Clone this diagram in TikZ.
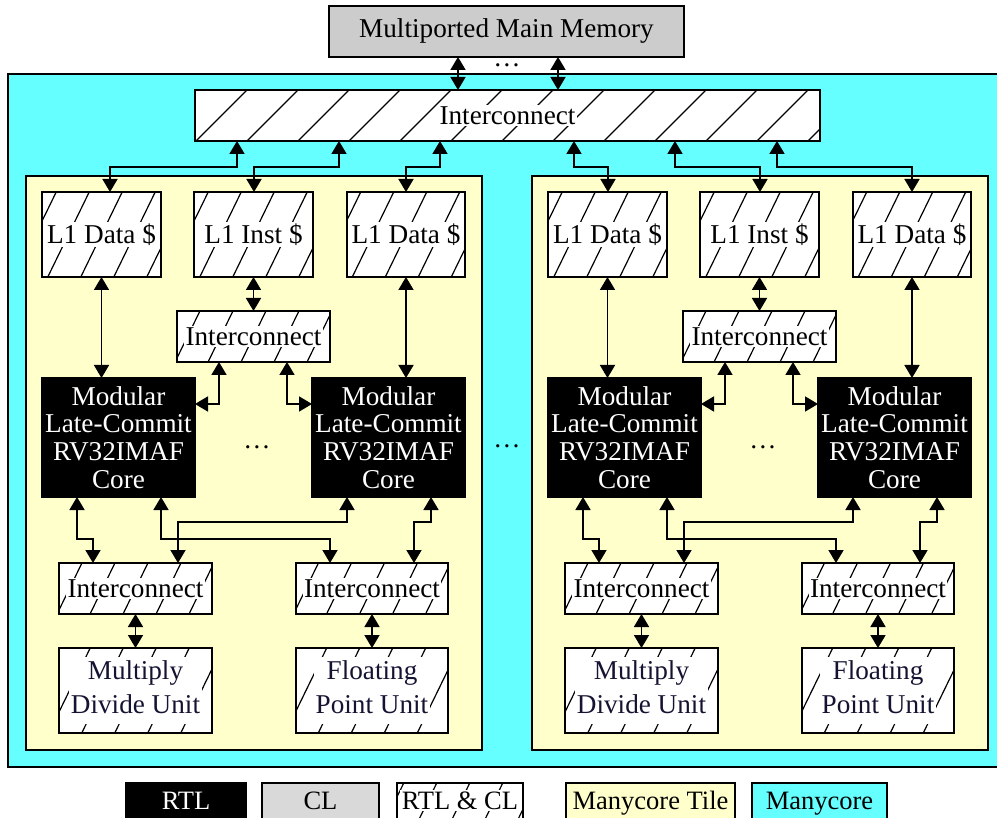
\documentclass[tikz,border=0pt]{standalone}
\usepackage{fontspec}
\setmainfont{Liberation Serif}
\usetikzlibrary{arrows.meta}
\definecolor{mcyan}{HTML}{66FFFF}
\definecolor{mtile}{HTML}{FFFFCC}
\definecolor{mgray}{HTML}{CCCCCC}
\definecolor{lgray}{HTML}{D9D9D9}
\definecolor{navy}{HTML}{141432}
\newcommand\wb[1]{{\setlength{\fboxsep}{1.5pt}\colorbox{white}{#1}}}
\newcommand\wbb[2]{{\setlength{\fboxsep}{1.5pt}\colorbox{white}{\begin{tabular}{@{}c@{}}#1\\[4pt]#2\end{tabular}}}}
\newcommand\mytile[2]{%
\begin{scope}[xshift=#2pt]
\node[box, fill=mtile, minimum width=456pt, minimum height=574pt] (#1tile) at (254,463) {};
\node[hatchS, minimum width=119pt, minimum height=85pt] (#1L1a) at (101.5,234.5) {\wb{L1 Data \$}};
\node[hatchS, minimum width=119pt, minimum height=85pt] (#1L1i) at (253.5,234.5) {\wb{L1 Inst \$}};
\node[hatchS, minimum width=118pt, minimum height=85pt] (#1L1b) at (406,234.5) {\wb{L1 Data \$}};
\node[hatchS, minimum width=153pt, minimum height=51pt] (#1SIC) at (253.5,336.5) {\wb{Interconnect}};
\node[corebox, minimum width=153pt, minimum height=119pt] (#1CoreA) at (118.5,437.5) {Modular\\Late-Commit\\RV32IMAF\\Core};
\node[corebox, minimum width=153pt, minimum height=119pt] (#1CoreB) at (388.5,437.5) {Modular\\Late-Commit\\RV32IMAF\\Core};
\node (#1dots) at (257,447) {…};
\node[hatchS, minimum width=153pt, minimum height=51pt] (#1LIC1) at (135.5,588.5) {\wb{Interconnect}};
\node[hatchS, minimum width=152pt, minimum height=51pt] (#1LIC2) at (372,588.5) {\wb{Interconnect}};
\node[hatchS, minimum width=153pt, minimum height=85pt, text=navy] (#1MDU) at (135.5,690.5) {\wbb{Multiply}{Divide Unit}};
\node[hatchS, minimum width=152pt, minimum height=85pt, text=navy] (#1FPU) at (372,690.5) {\wbb{Floating}{Point Unit}};
\draw[dbl] (#1L1a.south) -- (#1L1a.south |- #1CoreA.north);
\draw[dbl] (#1L1b.south) -- (#1L1b.south |- #1CoreB.north);
\draw[dbl] (#1L1i.south) -- (#1SIC.north);
\draw[dbl] ([xshift=-34.5pt]#1SIC.south) |- ([yshift=33.5pt]#1CoreA.east);
\draw[dbl] ([xshift=33.5pt]#1SIC.south) |- ([yshift=33.5pt]#1CoreB.west);
\draw[dbl] ([xshift=-41.5pt]#1CoreA.south) -- ++(0,42) -| ([xshift=-42.5pt]#1LIC1.north);
\draw[dbl] ([xshift=42.5pt]#1CoreA.south) -- ++(0,42) -| ([xshift=-42pt]#1LIC2.north);
\draw[dbl] ([xshift=-41.5pt]#1CoreB.south) -- ++(0,25) -| ([xshift=42.5pt]#1LIC1.north);
\draw[dbl] ([xshift=42.5pt]#1CoreB.south) -- ++(0,25) -| ([xshift=42pt]#1LIC2.north);
\draw[dbl] (#1LIC1.south) -- (#1MDU.north);
\draw[dbl] (#1LIC2.south) -- (#1FPU.north);
\end{scope}}
\begin{document}
\begin{tikzpicture}[x=1pt,y=-1pt,
  every node/.style={font=\fontsize{27.2}{30}\selectfont, inner sep=0pt, outer sep=0pt},
  box/.style={draw, line width=1.7pt, rectangle},
  hatchS/.style={box, fill=white, path picture={\foreach \k in {-10,...,10}{\draw[line width=1.2pt] ([xshift={\k*33pt}]path picture bounding box.center) ++(64:-120pt) -- ++(64:240pt);}}},
  hatchL/.style={box, fill=white, path picture={\foreach \k in {-14,...,14}{\draw[line width=1.2pt] ([xshift={\k*51pt+20pt}]path picture bounding box.center) ++(45:-100pt) -- ++(45:200pt);}}},
  corebox/.style={box, fill=black, text=white, align=center, font=\fontsize{27.2}{27.7}\selectfont},
  legend/.style={box, minimum height=40pt, text height=18pt, text depth=6pt, font=\fontsize{26.5}{30}\selectfont},
  tip/.tip={Triangle[width=15pt,length=13pt]},
  dbl/.style={line width=1.8pt, tip-tip}
]
\useasboundingbox (0,0) rectangle (997,818);
\fill[white] (0,0) rectangle (997,818);
% manycore
\node[box, fill=mcyan, minimum width=992pt, minimum height=693pt] (manycore) at (504,420.5) {};
% memory
\node[box, fill=mgray, minimum width=355pt, minimum height=51pt] (mem) at (506.5,31.5) {Multiported Main Memory};
% big interconnect
\node[hatchL, minimum width=625pt, minimum height=51pt] (bigic) at (507.5,115.5) {\wb{Interconnect}};
\draw[dbl] ([xshift=-48.5pt]mem.south) -- ([xshift=-48.5pt]mem.south |- bigic.north);
\draw[dbl] ([xshift=51.5pt]mem.south) -- ([xshift=51.5pt]mem.south |- bigic.north);
\node (memdots) at (507,65) {…};
% tiles
\mytile{a}{0}
\mytile{b}{506}
\node (tiledots) at (507,446) {…};
% tile to big interconnect
\draw[dbl] ([xshift=8.5pt]aL1a.north) -- ++(0,-25) -| ([xshift=-270.5pt]bigic.south);
\draw[dbl] ([xshift=0.5pt]aL1i.north) -- ++(0,-25) -| ([xshift=-168.5pt]bigic.south);
\draw[dbl] (aL1b.north) -- ++(0,-25) -| ([xshift=-67.5pt]bigic.south);
\draw[dbl] ([xshift=0.5pt]bL1a.north) -- ++(0,-25) -| ([xshift=66.5pt]bigic.south);
\draw[dbl] ([xshift=0.5pt]bL1i.north) -- ++(0,-25) -| ([xshift=167.5pt]bigic.south);
\draw[dbl] (bL1b.north) -- ++(0,-25) -| ([xshift=269.5pt]bigic.south);
% legend
\node[legend, fill=black, text=white, minimum width=120pt] (lrtl) at (186,803) {RTL};
\node[legend, fill=lgray, minimum width=117pt] (lcl) at (320.5,803) {CL};
\node[legend, hatchS, minimum width=126pt] (lboth) at (460,803) {\wb{RTL \& CL}};
\node[legend, fill=mtile, minimum width=169pt] (ltile) at (650.5,803) {Manycore Tile};
\node[legend, fill=mcyan, minimum width=135pt] (lmany) at (819.5,803) {Manycore};
\end{tikzpicture}
\end{document}
